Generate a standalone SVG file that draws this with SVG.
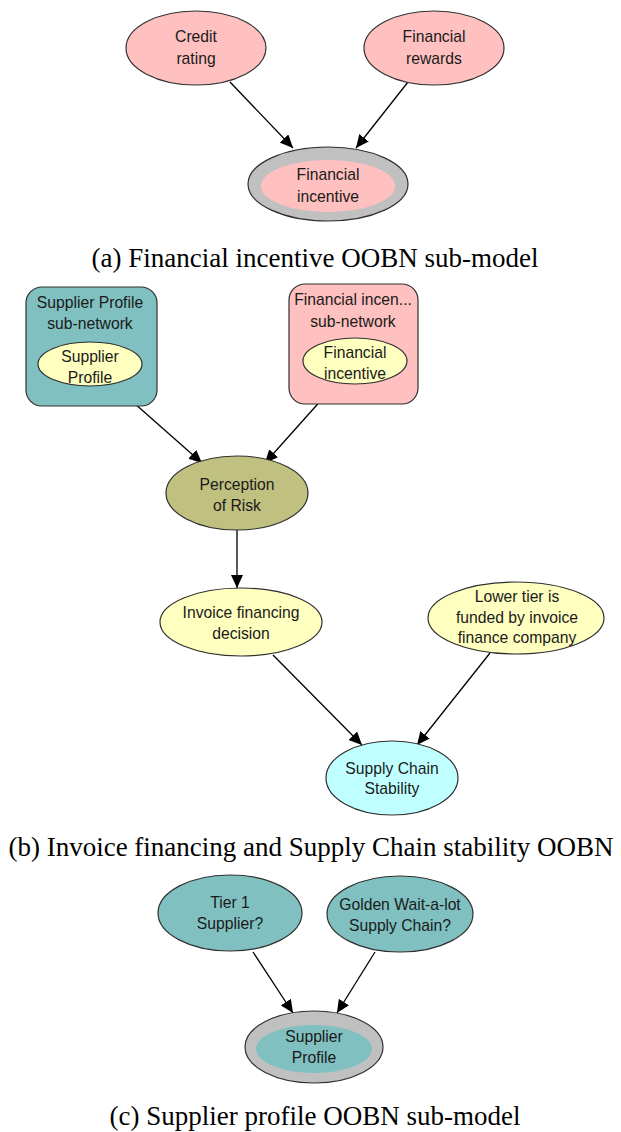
<svg xmlns="http://www.w3.org/2000/svg" width="621" height="1132" viewBox="0 0 621 1132">
<style>
.n{stroke:#303030;stroke-width:1.2}
.t{font-family:"Liberation Sans",Arial,sans-serif;font-size:15.7px;fill:#1a1a1a;text-anchor:middle}
.cap{font-family:"Liberation Serif","Times New Roman",serif;font-size:27px;fill:#000;text-anchor:middle}
.e{stroke:#000;stroke-width:1.3;fill:none}
.pink{fill:#FFC0C0}.teal{fill:#80C0C0}.olive{fill:#C0C080}.yel{fill:#FFFFC0}.cyan{fill:#C0FFFF}.gray{fill:#C0C0C0}
</style>
<defs>
<marker id="arr" markerUnits="userSpaceOnUse" markerWidth="14" markerHeight="12" refX="13" refY="6" orient="auto">
<path d="M0,0 L13,6 L0,12 Z" fill="#000"/>
</marker>
</defs>
<rect width="621" height="1132" fill="#fff"/>

<g id="connectors">
<line class="e" x1="230" y1="82" x2="293" y2="148" marker-end="url(#arr)"/>
<line class="e" x1="408" y1="82" x2="356" y2="148" marker-end="url(#arr)"/>
<line class="e" x1="117" y1="388" x2="202" y2="463" marker-end="url(#arr)"/>
<line class="e" x1="332" y1="388" x2="265" y2="463" marker-end="url(#arr)"/>
<line class="e" x1="237" y1="530" x2="237" y2="588" marker-end="url(#arr)"/>
<line class="e" x1="273" y1="655" x2="362" y2="745" marker-end="url(#arr)"/>
<line class="e" x1="490" y1="653" x2="417" y2="745" marker-end="url(#arr)"/>
<line class="e" x1="253" y1="952" x2="293" y2="1013" marker-end="url(#arr)"/>
<line class="e" x1="375" y1="952" x2="337" y2="1013" marker-end="url(#arr)"/>
</g>

<!-- (a) -->
<g id="credit-rating">
<ellipse class="n pink" cx="196" cy="48" rx="70" ry="37"/>
<text class="t" x="196" y="42">Credit</text>
<text class="t" x="196" y="64">rating</text>
</g>
<g id="financial-rewards">
<ellipse class="n pink" cx="434" cy="48" rx="70" ry="37"/>
<text class="t" x="434" y="42">Financial</text>
<text class="t" x="434" y="64">rewards</text>
</g>
<g id="financial-incentive">
<ellipse class="n gray" cx="328" cy="184" rx="80" ry="37"/>
<ellipse class="pink" cx="328" cy="186" rx="67" ry="26"/>
<text class="t" x="328" y="180">Financial</text>
<text class="t" x="328" y="202">incentive</text>
</g>
<text class="cap" x="315" y="267">(a) Financial incentive OOBN sub-model</text>

<!-- (b) -->
<g id="supplier-profile-subnetwork">
<rect class="n teal" x="26" y="287" width="131" height="119" rx="16"/>
<text class="t" x="90" y="308">Supplier Profile</text>
<text class="t" x="90" y="329">sub-network</text>
<ellipse class="n yel" cx="90" cy="364" rx="52" ry="22"/>
<text class="t" x="90" y="362">Supplier</text>
<text class="t" x="90" y="383">Profile</text>
</g>
<g id="financial-incentive-subnetwork">
<rect class="n pink" x="289" y="284" width="129" height="120" rx="16"/>
<text class="t" x="353" y="305">Financial incen...</text>
<text class="t" x="353" y="327">sub-network</text>
<ellipse class="n yel" cx="355" cy="361" rx="52" ry="23"/>
<text class="t" x="355" y="358">Financial</text>
<text class="t" x="355" y="379">incentive</text>
</g>
<g id="perception-of-risk">
<ellipse class="n olive" cx="237" cy="493" rx="71" ry="37"/>
<text class="t" x="237" y="490">Perception</text>
<text class="t" x="237" y="511">of Risk</text>
</g>
<g id="invoice-financing-decision">
<ellipse class="n yel" cx="241" cy="622" rx="81" ry="34"/>
<text class="t" x="241" y="618">Invoice financing</text>
<text class="t" x="241" y="639">decision</text>
</g>
<g id="lower-tier">
<ellipse class="n yel" cx="516" cy="618" rx="88" ry="36"/>
<text class="t" x="517" y="602">Lower tier is</text>
<text class="t" x="517" y="623">funded by invoice</text>
<text class="t" x="517" y="643">finance company</text>
</g>
<g id="supply-chain-stability">
<ellipse class="n cyan" cx="392" cy="778" rx="66" ry="37"/>
<text class="t" x="392" y="774">Supply Chain</text>
<text class="t" x="392" y="794">Stability</text>
</g>
<text class="cap" x="311" y="856">(b) Invoice financing and Supply Chain stability OOBN</text>

<!-- (c) -->
<g id="tier1-supplier">
<ellipse class="n teal" cx="230" cy="913" rx="72" ry="38"/>
<text class="t" x="230" y="908">Tier 1</text>
<text class="t" x="230" y="929">Supplier?</text>
</g>
<g id="golden-wait-a-lot">
<ellipse class="n teal" cx="400" cy="914" rx="73" ry="38"/>
<text class="t" x="400" y="910">Golden Wait-a-lot</text>
<text class="t" x="400" y="931">Supply Chain?</text>
</g>
<g id="supplier-profile">
<ellipse class="n gray" cx="314" cy="1047" rx="69" ry="36"/>
<ellipse class="teal" cx="314" cy="1049" rx="58" ry="24"/>
<text class="t" x="314" y="1042">Supplier</text>
<text class="t" x="314" y="1063">Profile</text>
</g>
<text class="cap" x="315" y="1125">(c) Supplier profile OOBN sub-model</text>
</svg>
